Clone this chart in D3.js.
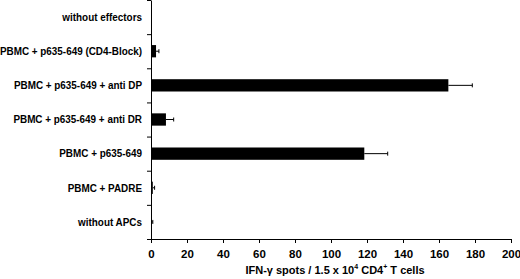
<!DOCTYPE html>
<html>
<head>
<meta charset="utf-8">
<script src="https://cdn.jsdelivr.net/npm/d3@7"></script>
<style>
  body { margin: 0; background: #fff; }
  text { font-family: "Liberation Sans", Arial, Helvetica, sans-serif; font-weight: bold; }
</style>
</head>
<body>
<div id="canvas"></div>
<script>
const width = 520, height = 279;
const margin = { left: 151, right: 9, top: 0, bottom: 40 };

// data
const groups = [
  "without effectors",
  "PBMC + p635-649 (CD4-Block)",
  "PBMC + p635-649 + anti DP",
  "PBMC + p635-649 + anti DR",
  "PBMC + p635-649",
  "PBMC + PADRE",
  "without APCs"
];
const spots = [0, 2.8, 165.2, 8.3, 118.5, 1.0, 0.5];
const errors = [0, 1.6, 13.3, 4.3, 13.0, 1.0, 0.5];
const xTicks = [0, 20, 40, 60, 80, 100, 120, 140, 160, 180, 200];

const svg = d3.select("#canvas")
  .append("svg")
  .attr("width", width)
  .attr("height", height);

const xScale = d3.scaleLinear()
  .domain([0, 200])
  .range([margin.left, width - margin.right]);

const yScale = d3.scaleBand()
  .domain(groups)
  .range([margin.top, height - margin.bottom]);

// band boundaries for the y ticks
const yEdges = d3.scaleLinear()
  .domain([0, groups.length])
  .range([margin.top, height - margin.bottom]);

const barH = yScale.step() * 0.36;

// x axis
svg.append("g")
  .attr("transform", `translate(0,${height - margin.bottom})`)
  .call(d3.axisBottom(xScale).tickValues(xTicks).tickSize(4).tickSizeOuter(0).tickPadding(7))
  .call(g => g.selectAll("text").attr("font-size", 11.5).attr("font-family", null).attr("fill", "#000"))
  .call(g => g.selectAll("line, path").attr("stroke", "#000"));

// y axis (ticks at band edges, no labels)
svg.append("g")
  .attr("transform", `translate(${margin.left},0)`)
  .call(d3.axisLeft(yEdges).ticks(groups.length).tickSize(4).tickSizeOuter(0).tickFormat(""))
  .call(g => g.selectAll("line, path").attr("stroke", "#000"));

// category labels (the original face is a bit narrower than Arial)
svg.append("g")
  .attr("transform", `translate(${margin.left - 9},0) scale(0.9,1)`)
  .selectAll("text")
  .data(groups)
  .join("text")
  .attr("x", 0)
  .attr("y", d => yScale(d) + yScale.bandwidth() / 2)
  .attr("dy", "0.35em")
  .attr("text-anchor", "end")
  .attr("font-size", 11)
  .text(d => d);

// bars
svg.append("g")
  .selectAll("rect")
  .data(groups)
  .join("rect")
  .attr("x", xScale(0))
  .attr("y", d => yScale(d) + yScale.bandwidth() / 2 - barH / 2)
  .attr("width", (d, i) => xScale(spots[i]) - xScale(0))
  .attr("height", barH)
  .attr("fill", "#000");

// error bars
const err = svg.append("g").attr("stroke", "#000").attr("stroke-width", 1);
groups.forEach((d, i) => {
  if (spots[i] <= 0) return;
  const cy = yScale(d) + yScale.bandwidth() / 2;
  err.append("line")
    .attr("x1", xScale(spots[i])).attr("x2", xScale(spots[i] + errors[i]))
    .attr("y1", cy).attr("y2", cy);
  err.append("line")
    .attr("x1", xScale(spots[i] + errors[i])).attr("x2", xScale(spots[i] + errors[i]))
    .attr("y1", cy - 2).attr("y2", cy + 2);
});

// x axis title
const title = svg.append("text")
  .attr("x", (xScale(0) + xScale(200)) / 2 + 4)
  .attr("y", 274)
  .attr("text-anchor", "middle")
  .attr("font-size", 11);
title.append("tspan").text("IFN-\u03b3 spots / 1.5 x 10");
title.append("tspan").attr("font-size", 7).attr("dy", -5).text("4");
title.append("tspan").attr("dy", 5).text(" CD4");
title.append("tspan").attr("font-size", 7).attr("dy", -5).text("+");
title.append("tspan").attr("dy", 5).text(" T cells");
</script>
</body>
</html>
